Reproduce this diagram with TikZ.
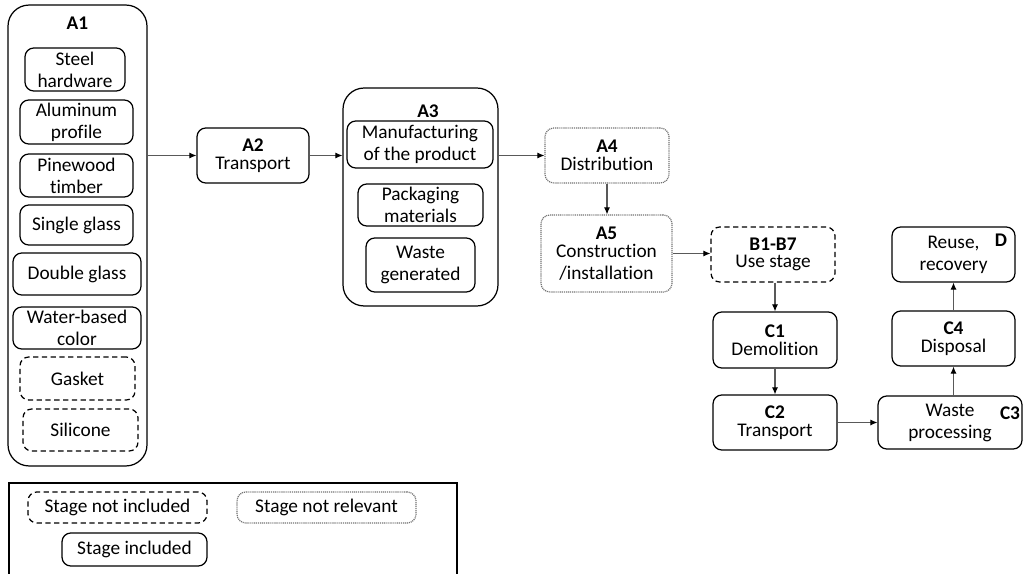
\documentclass[tikz,border=0pt]{standalone}
\usepackage{fontspec}
\setmainfont{Carlito}[Ligatures=NoCommon]
\usetikzlibrary{arrows.meta}

\begin{document}
\begin{tikzpicture}[x=0.02cm,y=-0.02cm,font=\fontsize{11}{12.5}\selectfont,>={Latex[length=4pt,width=3.5pt,color=black]},
  stage/.style={draw,rounded corners=5pt,line width=0.7pt,align=center,inner sep=0pt},
  group/.style={draw,rounded corners=12pt,line width=0.7pt,inner sep=0pt},
  notinc/.style={stage,dash pattern=on 3pt off 2pt},
  notrel/.style={stage,draw=black!55,dash pattern=on 0.6pt off 0.5pt},
  title/.style={font=\fontsize{11}{12.5}\selectfont\bfseries,inner sep=0pt},
  flow/.style={->,draw=black!65,line width=0.6pt}]
\useasboundingbox (0,0) rectangle (1024,574);
% A1 raw materials
\node[group,minimum width=2.78cm,minimum height=9.22cm] (a1) at (77.5,235.5) {};
\node[title] (a1t) at (77.5,23) {A1};
\node[stage,minimum width=2.0cm,minimum height=0.86cm] (steel) at (75,69.5) {Steel\\hardware};
\node[stage,minimum width=2.26cm,minimum height=0.88cm] (alu) at (76.5,122) {Aluminum\\profile};
\node[stage,minimum width=2.26cm,minimum height=0.86cm] (pine) at (76.5,175.5) {Pinewood\\timber};
\node[stage,minimum width=2.26cm,minimum height=0.8cm] (single) at (76.5,225) {Single glass};
\node[stage,minimum width=2.56cm,minimum height=0.84cm] (double) at (77,274) {Double glass};
\node[stage,minimum width=2.56cm,minimum height=0.84cm] (water) at (77,328) {Water-based\\color};
\node[notinc,minimum width=2.3cm,minimum height=0.86cm] (gasket) at (77.5,378.5) {Gasket};
\node[notinc,minimum width=2.3cm,minimum height=0.84cm] (silicone) at (80.5,430) {Silicone};
% A2, A3
\node[stage,minimum width=2.24cm,minimum height=1.1cm] (a2) at (253,155.5) {\textbf{A2}\\[-2.5pt]Transport};
\node[group,minimum width=3.1cm,minimum height=4.36cm] (a3) at (420.5,197) {};
\node[title] (a3t) at (428,111) {A3};
\node[stage,minimum width=2.92cm,minimum height=0.94cm] (manuf) at (420,144.5) {Manufacturing\\of the product};
\node[stage,minimum width=2.5cm,minimum height=0.84cm] (pack) at (420.5,205) {Packaging\\materials};
\node[stage,minimum width=2.18cm,minimum height=1.08cm] (waste) at (420.5,265) {Waste\\generated};
% A4, A5, B
\node[notrel,minimum width=2.48cm,minimum height=1.1cm] (a4) at (607,155.5) {\textbf{A4}\\[-2.5pt]Distribution};
\node[notrel,minimum width=2.62cm,minimum height=1.54cm] (a5) at (606.5,253.5) {\textbf{A5}\\[-2.5pt]Construction\\/installation};
\node[notinc,minimum width=2.48cm,minimum height=1.1cm] (use) at (773,254.5) {\textbf{B1-B7}\\[-2.5pt]Use stage};
% C, D
\node[stage,minimum width=2.48cm,minimum height=1.12cm] (c1) at (775,340) {\textbf{C1}\\[-2.5pt]Demolition};
\node[stage,minimum width=2.48cm,minimum height=1.1cm] (c2) at (775,422.5) {\textbf{C2}\\[-2.5pt]Transport};
\node[stage,minimum width=2.88cm,minimum height=1.06cm] (c3) at (950,422.5) {Waste\\processing};
\node[title] (c3t) at (1010,413) {C3};
\node[stage,minimum width=2.46cm,minimum height=1.1cm] (c4) at (953.5,338.5) {\textbf{C4}\\[-2.5pt]Disposal};
\node[stage,minimum width=2.46cm,minimum height=1.1cm] (d) at (953.5,254.5) {Reuse,\\recovery};
\node[title] (dt) at (1001,240) {D};
% connectors
\draw[flow] (a1.east |- a2) -- (a2.west);
\draw[flow] (a2.east) -- (a2.east -| a3.west);
\draw[flow] (a3.east |- a4) -- (a4.west);
\draw[flow] (a4.south) -- (a4.south |- a5.north);
\draw[flow] (a5.east) -- (a5.east -| use.west);
\draw[flow] (use.south -| c1) -- (c1.north);
\draw[flow] (c1.south) -- (c2.north);
\draw[flow] (c2.east) -- (c2.east -| c3.west);
\draw[flow] (c3.north -| c4) -- (c4.south);
\draw[flow] (c4.north) -- (d.south);
% legend
\draw[line width=0.7pt] (9,580) -- (9,483) -- (457,483) -- (457,580);
\node[notinc,minimum width=3.58cm,minimum height=0.62cm] (lnotinc) at (117.5,507.5) {Stage not included};
\node[notrel,minimum width=3.58cm,minimum height=0.62cm] (lnotrel) at (326.5,507.5) {Stage not relevant};
\node[stage,minimum width=2.9cm,minimum height=0.66cm] (linc) at (134.5,549.5) {Stage included};
\end{tikzpicture}
\end{document}
